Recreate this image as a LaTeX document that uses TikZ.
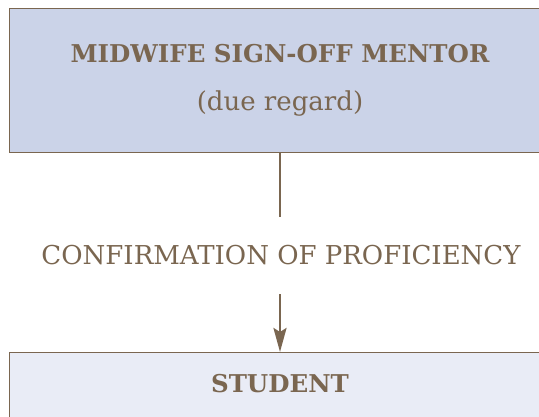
\documentclass[tikz,border=0pt]{standalone}
\usepackage{fontspec}
\setmainfont{DejaVu Serif}
\usetikzlibrary{arrows.meta,positioning}
\definecolor{brownink}{HTML}{7A6650}
\definecolor{mentorfill}{HTML}{CBD3E8}
\definecolor{studentfill}{HTML}{E9ECF6}
\tikzset{
	rolebox/.style={draw=brownink,line width=0.9pt,inner sep=0pt,anchor=north west},
	roletext/.style={text=brownink,font=\fontsize{24.5}{29}\selectfont\bfseries},
	plaintext/.style={text=brownink,font=\fontsize{26}{31}\selectfont},
	link/.style={draw=brownink,line width=2.6pt}
}
\begin{document}
\begin{tikzpicture}[x=1pt,y=1pt]
			\useasboundingbox (0,0) rectangle (539,-417);
			\node[rolebox,fill=mentorfill,minimum width=560pt,minimum height=144pt] (mentor) at (9,-8) {};
			\node[rolebox,fill=studentfill,minimum width=560pt,minimum height=100pt] (student) at (9,-352) {};
			\node[roletext] (mentortitle) at (280,-54) {MIDWIFE SIGN-OFF MENTOR};
			\node[plaintext] (mentornote) at (280,-104) {(due regard)};
			\node[roletext] (studenttitle) at (280,-384) {STUDENT};
			\node[plaintext,inner sep=0pt,minimum height=77pt] (confirm) at (281,-255.5) {CONFIRMATION OF PROFICIENCY};
			\draw [link] (mentor.south -| studenttitle) -- (confirm.north -| studenttitle);
			\draw [link,-{Stealth[length=24pt,width=13pt,inset=4pt]}] (confirm.south -| studenttitle) -- (student.north -| studenttitle);
\end{tikzpicture}
\end{document}
